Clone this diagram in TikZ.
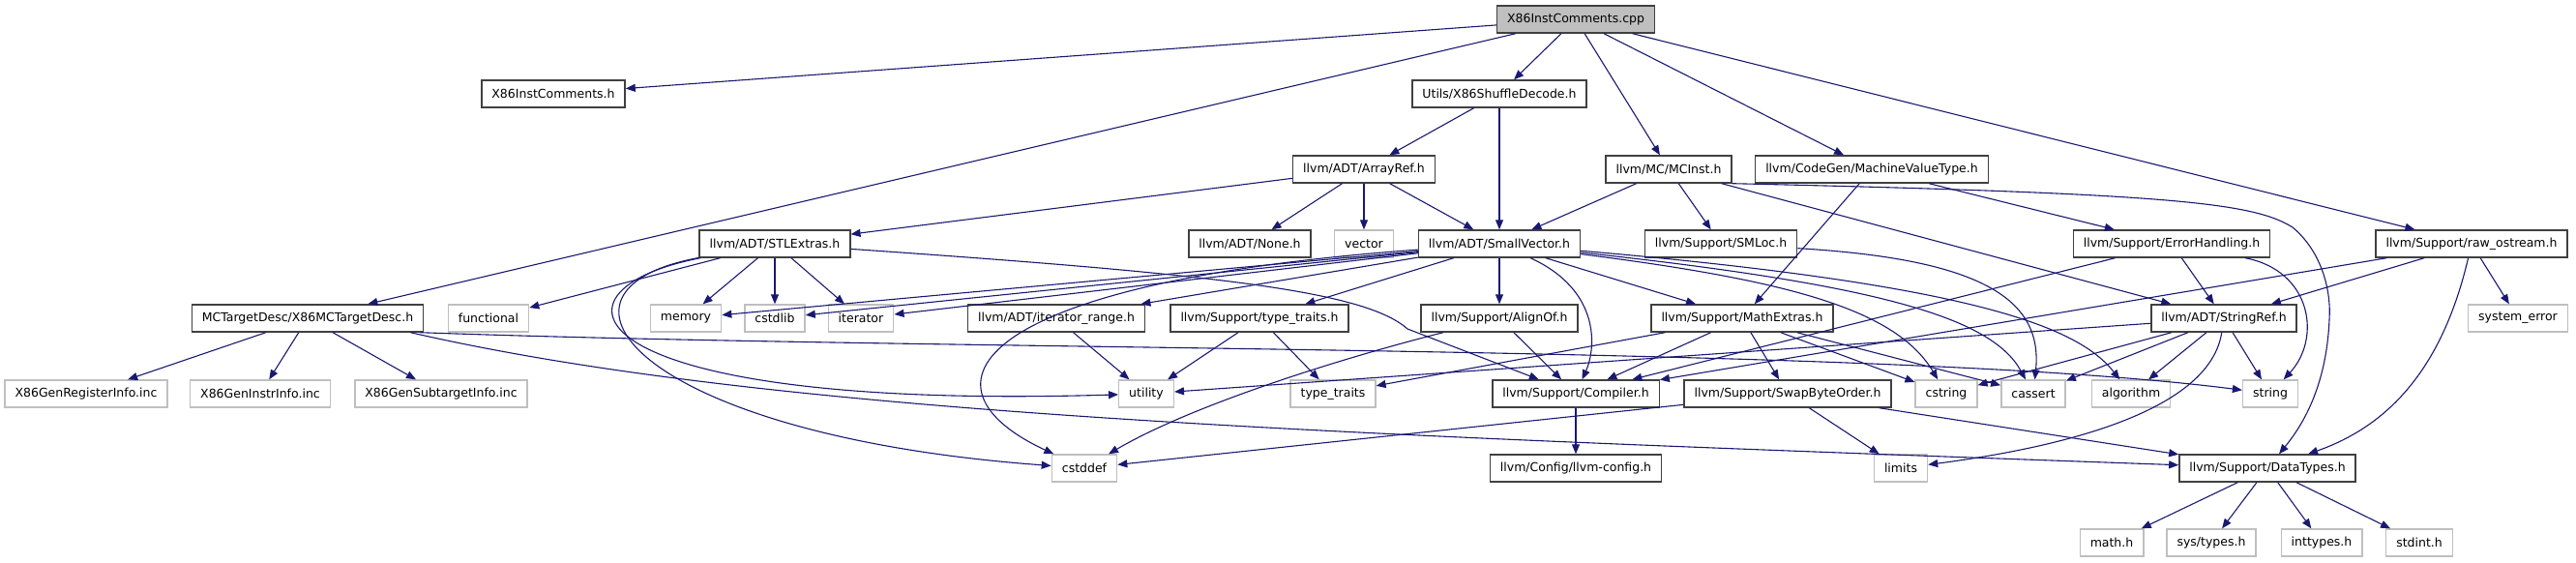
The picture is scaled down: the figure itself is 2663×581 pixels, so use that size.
\documentclass[tikz,border=0pt]{standalone}
\usepackage{fontspec}
\setmainfont{DejaVu Sans}
\usetikzlibrary{arrows.meta}
\definecolor{edgeblue}{HTML}{191970}
\definecolor{sysgray}{HTML}{BFBFBF}
\definecolor{hdrline}{HTML}{404040}
\tikzset{
    hfile/.style={rectangle, draw=hdrline, fill=white, line width=1.4pt, minimum height=28pt, inner xsep=10.5pt, inner ysep=0pt, text centered, font=\fontsize{12.5}{15}\selectfont},
    sysfile/.style={hfile, draw=sysgray},
    rootfile/.style={hfile, fill=sysgray},
    incl/.style={-{Triangle[length=10pt, width=8pt]}, line width=1.1pt, draw=edgeblue}
}
\begin{document}
\begin{tikzpicture}[x=1pt, y=-1pt]
    \useasboundingbox (0,0) rectangle (2663,581);
    % row 0 - 2
    \node[rootfile] (cpp) at (1629,20) {X86InstComments.cpp};
    \node[hfile] (comh) at (572,97) {X86InstComments.h};
    \node[hfile] (shuf) at (1550,97) {Utils/X86ShuffleDecode.h};
    \node[hfile] (aref) at (1410,175) {llvm/ADT/ArrayRef.h};
    \node[hfile] (mcinst) at (1725,175) {llvm/MC/MCInst.h};
    \node[hfile] (mvt) at (1935,175) {llvm/CodeGen/MachineValueType.h};
    % row 3
    \node[hfile] (stlx) at (801,252) {llvm/ADT/STLExtras.h};
    \node[hfile] (none) at (1292,252) {llvm/ADT/None.h};
    \node[sysfile] (vector) at (1410,252) {vector};
    \node[hfile] (svec) at (1550,252) {llvm/ADT/SmallVector.h};
    \node[hfile] (smloc) at (1779,252) {llvm/Support/SMLoc.h};
    \node[hfile] (errh) at (2245,252) {llvm/Support/ErrorHandling.h};
    \node[hfile] (rawos) at (2555,252) {llvm/Support/raw\_ostream.h};
    % row 4
    \node[hfile] (tdesc) at (318,329) {MCTargetDesc/X86MCTargetDesc.h};
    \node[sysfile] (functional) at (505,329) {functional};
    \node[sysfile] (memory) at (709,329) {memory};
    \node[sysfile] (cstdlib) at (801,329) {cstdlib};
    \node[sysfile] (iterator) at (890,329) {iterator};
    \node[hfile] (itrange) at (1092,329) {llvm/ADT/iterator\_range.h};
    \node[hfile] (ttraitsh) at (1302,329) {llvm/Support/type\_traits.h};
    \node[hfile] (alignof) at (1550,329) {llvm/Support/AlignOf.h};
    \node[hfile] (mathx) at (1801,329) {llvm/Support/MathExtras.h};
    \node[hfile] (sref) at (2299,329) {llvm/ADT/StringRef.h};
    \node[sysfile] (syserr) at (2603,329) {system\_error};
    % row 5
    \node[sysfile] (genreg) at (89,407) {X86GenRegisterInfo.inc};
    \node[sysfile] (geninstr) at (269,407) {X86GenInstrInfo.inc};
    \node[sysfile] (gensub) at (456,407) {X86GenSubtargetInfo.inc};
    \node[sysfile] (utility) at (1185,407) {utility};
    \node[sysfile] (ttraits) at (1378,407) {type\_traits};
    \node[hfile] (compiler) at (1629,407) {llvm/Support/Compiler.h};
    \node[hfile] (swap) at (1848,407) {llvm/Support/SwapByteOrder.h};
    \node[sysfile] (cstring) at (2012,407) {cstring};
    \node[sysfile] (cassert) at (2102,407) {cassert};
    \node[sysfile] (algorithm) at (2203,407) {algorithm};
    \node[sysfile] (string) at (2347,407) {string};
    % row 6 - 7
    \node[sysfile] (cstddef) at (1121,484) {cstddef};
    \node[hfile] (llvmcfg) at (1629,484) {llvm/Config/llvm-config.h};
    \node[sysfile] (limits) at (1965,484) {limits};
    \node[hfile] (dtypes) at (2344,484) {llvm/Support/DataTypes.h};
    \node[sysfile] (mathh) at (2183,561) {math.h};
    \node[sysfile] (systypes) at (2286,561) {sys/types.h};
    \node[sysfile] (inttypes) at (2400,561) {inttypes.h};
    \node[sysfile] (stdint) at (2501,561) {stdint.h};
    % includes of the source file
    \draw[incl] (cpp) -- (comh);
    \draw[incl] (cpp) -- (tdesc);
    \draw[incl] (cpp) -- (shuf);
    \draw[incl] (cpp) -- (mcinst);
    \draw[incl] (cpp) -- (mvt);
    \draw[incl] (cpp) -- (rawos);
    \draw[incl] (shuf) -- (aref);
    \draw[incl] (shuf) -- (svec);
    \draw[incl] (aref) -- (stlx);
    \draw[incl] (aref) -- (none);
    \draw[incl] (aref) -- (vector);
    \draw[incl] (aref) -- (svec);
    \draw[incl] (mcinst) -- (svec);
    \draw[incl] (mcinst) -- (smloc);
    \draw[incl] (mcinst) -- (sref);
    \draw[incl] (mcinst.south east) .. controls (2250,200) and (2330,210) .. (2370,235)
        .. controls (2400,260) and (2410,300) .. (2408,330)
        .. controls (2405,400) and (2380,440) .. (dtypes);
    \draw[incl] (mvt) -- (errh);
    \draw[incl] (mvt) -- (mathx);
    \draw[incl] (rawos) -- (compiler);
    \draw[incl] (rawos) -- (sref);
    \draw[incl] (rawos) -- (syserr);
    \draw[incl] (rawos) .. controls (2525,380) and (2470,440) .. (dtypes);
    \draw[incl] (errh) -- (compiler);
    \draw[incl] (errh) -- (sref);
    \draw[incl] (errh) .. controls (2390,280) and (2400,350) .. (string);
    \draw[incl] (smloc) .. controls (2050,268) and (2112,310) .. (cassert);
    % target description
    \draw[incl] (tdesc) -- (genreg);
    \draw[incl] (tdesc) -- (geninstr);
    \draw[incl] (tdesc) -- (gensub);
    \draw[incl] ([xshift=-4pt]tdesc.south east) .. controls (1000,364) and (1950,356) .. (string);
    \draw[incl] ([xshift=-14pt]tdesc.south east) .. controls (800,430) and (1400,450) .. (dtypes);
    % STLExtras
    \draw[incl] (stlx) -- (functional);
    \draw[incl] (stlx) -- (memory);
    \draw[incl] (stlx) -- (cstdlib);
    \draw[incl] (stlx) -- (iterator);
    \draw[incl] (stlx) .. controls (550,300) and (590,425) .. (utility);
    \draw[incl] (stlx) .. controls (540,300) and (660,450) .. (cstddef);
    \draw[incl] (stlx) .. controls (1250,283) and (1410,300) .. (1455,340) -- (compiler);
    % SmallVector
    \draw[incl] (svec) -- (memory);
    \draw[incl] (svec) -- (cstdlib);
    \draw[incl] (svec) -- (iterator);
    \draw[incl] (svec) -- (itrange);
    \draw[incl] (svec) -- (ttraitsh);
    \draw[incl] (svec) -- (alignof);
    \draw[incl] (svec) -- (mathx);
    \draw[incl] (svec) .. controls (1655,300) and (1650,360) .. (compiler);
    \draw[incl] (svec) .. controls (1000,292) and (940,400) .. (cstddef);
    \draw[incl] (svec) .. controls (1850,290) and (1960,320) .. (cstring);
    \draw[incl] (svec) .. controls (1950,295) and (2060,330) .. (cassert);
    \draw[incl] (svec) .. controls (2050,295) and (2150,340) .. (algorithm);
    % lower headers
    \draw[incl] (itrange) -- (utility);
    \draw[incl] (ttraitsh) -- (utility);
    \draw[incl] (ttraitsh) -- (ttraits);
    \draw[incl] (alignof) -- (compiler);
    \draw[incl] (alignof) .. controls (1380,372) and (1230,420) .. (cstddef);
    \draw[incl] (mathx) -- (ttraits);
    \draw[incl] (mathx) -- (compiler);
    \draw[incl] (mathx) -- (swap);
    \draw[incl] (mathx) -- (cstring);
    \draw[incl] (mathx) -- (cassert);
    \draw[incl] (sref) -- (utility);
    \draw[incl] (sref) -- (cstring);
    \draw[incl] (sref) -- (cassert);
    \draw[incl] (sref) -- (algorithm);
    \draw[incl] (sref) -- (string);
    \draw[incl] (sref) .. controls (2285,420) and (2150,460) .. (limits);
    \draw[incl] (swap) -- (cstddef);
    \draw[incl] (swap) -- (limits);
    \draw[incl] (swap) -- (dtypes);
    \draw[incl] (compiler) -- (llvmcfg);
    \draw[incl] (dtypes) -- (mathh);
    \draw[incl] (dtypes) -- (systypes);
    \draw[incl] (dtypes) -- (inttypes);
    \draw[incl] (dtypes) -- (stdint);
\end{tikzpicture}
\end{document}
